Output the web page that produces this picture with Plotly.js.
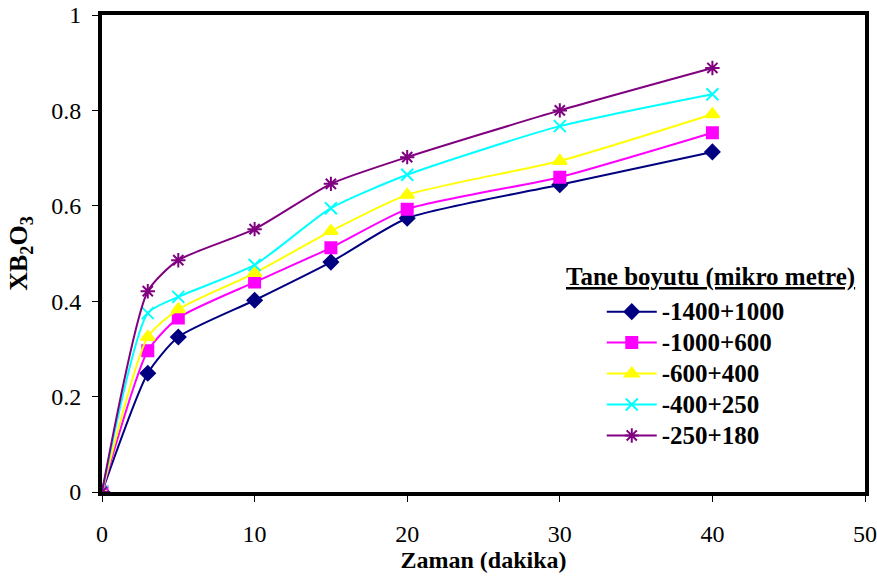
<!DOCTYPE html>
<html><head><meta charset="utf-8">
<script src="https://cdn.plot.ly/plotly-3.0.1.min.js"></script>
<style>html,body{margin:0;padding:0;background:#fff}</style>
</head><body><div id="chart" style="width:877px;height:579px"></div>
<script>
const time = [0, 3, 5, 10, 15, 20, 30, 40];
const seriesNames = ['-1400+1000', '-1000+600', '-600+400', '-400+250', '-250+180'];
const legendTitle = 'Tane boyutu (mikro metre)';
const s1400_1000 = [0, 0.249, 0.325, 0.402, 0.482, 0.574, 0.644, 0.713];
const s1000_600  = [0, 0.296, 0.365, 0.440, 0.512, 0.593, 0.660, 0.753];
const s600_400   = [0, 0.325, 0.383, 0.459, 0.547, 0.623, 0.694, 0.792];
const s400_250   = [0, 0.375, 0.409, 0.476, 0.595, 0.665, 0.767, 0.834];
const s250_180   = [0, 0.421, 0.486, 0.551, 0.646, 0.702, 0.800, 0.889];
const allSeries = [s1400_1000, s1000_600, s600_400, s400_250, s250_180];
const colors = ['#000080', '#FF00FF', '#FFFF00', '#00FFFF', '#800080'];
const symbols = ['diamond', 'square', 'triangle-up', 'x-thin-open', 'asterisk-open'];
const sizes = [11, 11, 12, 12, 12];
const FONT = 'Liberation Serif';

const traces = allSeries.map((ys, i) => ({
  x: time, y: ys,
  name: '<span style="font-size:25px"><b>' + seriesNames[i] + '</b></span>',
  type: 'scatter', mode: 'lines+markers',
  line: {color: colors[i], width: 2, shape: 'spline', smoothing: 0.6},
  marker: {symbol: symbols[i], color: colors[i], size: sizes[i], line: {color: colors[i], width: 2}}
}));

const layout = {
  width: 877, height: 579,
  margin: {l: 102, r: 12, t: 15, b: 87},
  paper_bgcolor: '#fff', plot_bgcolor: '#fff',
  font: {family: FONT, color: '#000', size: 24},
  xaxis: {
    range: [0, 50], dtick: 10, showgrid: false, zeroline: false,
    showline: true, mirror: true, linewidth: 4, linecolor: '#000',
    ticks: 'outside', ticklen: 6, tickwidth: 1, tickcolor: '#000',
    ticklabelstandoff: 11,
    tickfont: {family: FONT, size: 24},
    title: {text: '<b>Zaman (dakika)</b>', font: {family: FONT, size: 24}, standoff: 2}
  },
  yaxis: {
    range: [0, 1], dtick: 0.2, showgrid: false, zeroline: false,
    showline: true, mirror: true, linewidth: 4, linecolor: '#000',
    ticks: 'outside', ticklen: 6, tickwidth: 1, tickcolor: '#000',
    ticklabelstandoff: 6,
    tickfont: {family: FONT, size: 24},
    title: {text: '<b>XB<sub>2</sub>O<sub>3</sub></b>', font: {family: FONT, size: 26}, standoff: 17}
  },
  legend: {
    x: 0.655, y: 0.421, xanchor: 'left', yanchor: 'top',
    bgcolor: 'rgba(0,0,0,0)', borderwidth: 0,
    font: {size: 21.5, family: FONT},
    itemwidth: 50
  },
  annotations: [{
    xref: 'paper', yref: 'paper', x: 0.798, y: 0.450, xanchor: 'center', yanchor: 'middle',
    text: '<b><u>' + legendTitle + '</u></b>', showarrow: false,
    font: {family: FONT, size: 25, color: '#000'}
  }],
  showlegend: true
};
Plotly.newPlot('chart', traces, layout, {displayModeBar: false, staticPlot: true});
</script></body></html>
